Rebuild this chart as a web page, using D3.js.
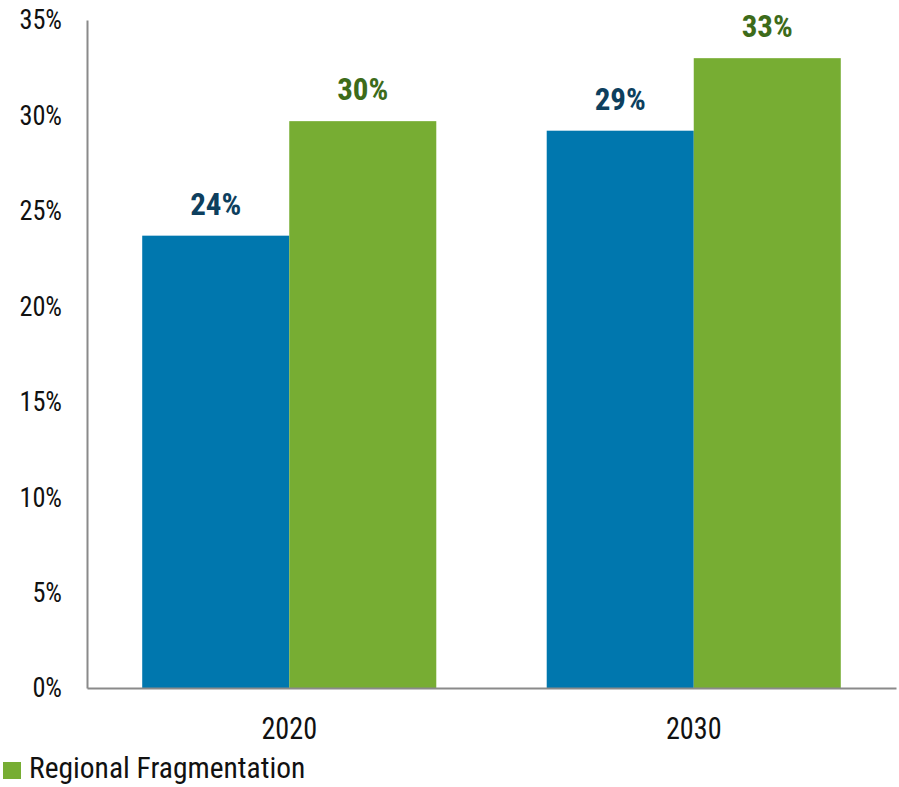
<!DOCTYPE html>
<html><head><meta charset="utf-8">
<script src="https://cdn.jsdelivr.net/npm/d3@7"></script>
<style>
body{margin:0;background:#fff;}
text{font-family:"Roboto Condensed","Liberation Sans Narrow","Arial Narrow","DejaVu Sans Condensed",Roboto,sans-serif;}
</style></head>
<body><svg id="c" width="899" height="787"></svg>
<script>
const categories = ["2020", "2030"];
const seriesNames = ["Baseline", "Regional Fragmentation"];
const baselineValues = [23.7, 29.2];
const fragmentationValues = [29.7, 33.0];
const baselineLabels = ["24%", "29%"];
const fragmentationLabels = ["30%", "33%"];
const yTicks = [0, 5, 10, 15, 20, 25, 30, 35];
const legendNames = ["Regional Fragmentation"];

const colors = ["#0077ae", "#77ad33"];
const labelColors = ["#0d3f5e", "#3d6b1a"];
const series = [baselineValues, fragmentationValues];
const seriesLabels = [baselineLabels, fragmentationLabels];

const svg = d3.select("#c");
const mLeft = 87, mRight = 896, mTop = 20, mBottom = 688;

const x = d3.scaleBand().domain(categories).range([mLeft, mRight]).paddingInner(0.273).paddingOuter(0.1365);
const x1 = d3.scaleBand().domain(d3.range(series.length)).range([0, x.bandwidth()]);
const y = d3.scaleLinear().domain([0, 35]).range([mBottom, mTop]);

// bars
series.forEach((vals, si) => {
  svg.append("g").selectAll("rect").data(vals).join("rect")
    .attr("x", (d, i) => x(categories[i]) + x1(si))
    .attr("width", x1.bandwidth())
    .attr("y", d => y(d))
    .attr("height", d => y(0) - y(d))
    .attr("fill", colors[si]);
  svg.append("g").selectAll("text").data(vals).join("text")
    .attr("transform", (d, i) => `translate(${x(categories[i]) + x1(si) + x1.bandwidth() / 2},${y(d) - 21})`)
    .attr("text-anchor", "middle")
    .attr("font-size", 31).attr("font-weight", "bold")
    .attr("fill", labelColors[si])
    .text((d, i) => seriesLabels[si][i]);
});

// y axis
const ya = svg.append("g").attr("transform", `translate(${mLeft},0)`)
  .call(d3.axisLeft(y).tickValues(yTicks).tickSize(0).tickPadding(25).tickFormat(d => d + "%"));
ya.select(".domain").attr("stroke", "#8a8a8a").attr("stroke-width", 2);
ya.selectAll("text").attr("font-size", 28).attr("fill", "#111").attr("font-family", null)
  .attr("x", -25 / 0.94).attr("transform", "scale(0.94,1)");

// x axis
const xa = svg.append("g").attr("transform", `translate(0,${mBottom})`)
  .call(d3.axisBottom(x).tickSize(0).tickPadding(28));
xa.select(".domain").attr("stroke", "#8a8a8a").attr("stroke-width", 2);
xa.selectAll("text").attr("font-size", 32).attr("fill", "#111").attr("font-family", null)
  .attr("transform", "scale(0.88,1)");

// legend
const lg = svg.append("g").attr("transform", "translate(3,762)");
lg.selectAll("rect").data(legendNames).join("rect")
  .attr("x", 0).attr("y", 0).attr("width", 18).attr("height", 17).attr("fill", colors[1]);
lg.selectAll("text").data(legendNames).join("text")
  .attr("x", 26).attr("y", 16).attr("font-size", 29.5).attr("fill", "#111").text(d => d);
</script></body></html>
